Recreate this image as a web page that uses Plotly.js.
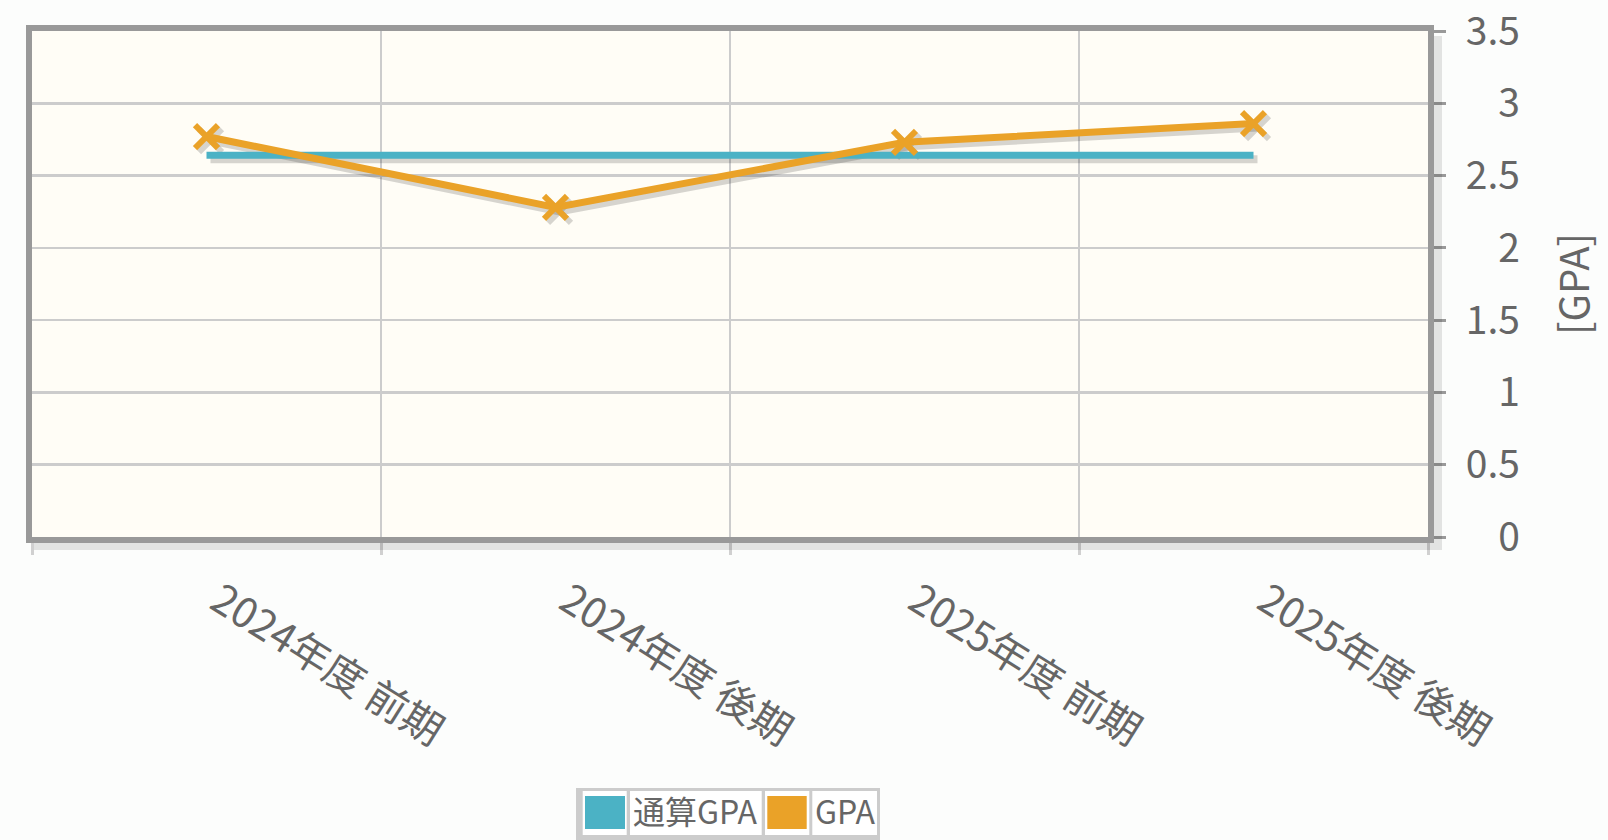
<!DOCTYPE html>
<html><head><meta charset="utf-8">
<script src="https://cdn.plot.ly/plotly-3.0.1.min.js"></script>
<style>html,body{margin:0;padding:0;background:#fcfdfc;} #chart{width:1608px;height:840px;}</style>
</head><body><div id="chart"></div>
<script>
// ---- data ----
const categories = ["2024年度 前期", "2024年度 後期", "2025年度 前期", "2025年度 後期"];
const seriesNames = ["通算GPA", "GPA"];
const cumulativeGpa = [2.64, 2.64, 2.64, 2.64];
const termGpa = [2.77, 2.28, 2.73, 2.86];
const yTickValues = [0, 0.5, 1, 1.5, 2, 2.5, 3, 3.5];
const yTickLabels = ["0", "0.5", "1", "1.5", "2", "2.5", "3", "3.5"];
const yTitle = "[GPA]";
const seriesColors = ["#4bb2c5", "#eaa228"];

// ---- layout geometry ----
const W = 1608, H = 840;
const L = 32, R = 1428, T = 31, B = 537;
const px = x => (x - L) / (R - L);
const py = y => (B - y) / (B - T);
const fontFam = "'Noto Sans CJK JP', 'Noto Sans', sans-serif";
const textColor = "#666666";
const yMax = 3.5;
const unitY = yMax / (B - T);
const unitX = 1 / ((R - L) / categories.length);
const sh = 4; // shadow offset px

// right-align y tick labels with figure/punctuation spaces
const yTickText = yTickLabels.map(s => s.indexOf('.') >= 0 ? s : '\u2007\u2008' + s);

const shadowColor = "rgba(0,0,0,0.16)";
const traces = [
  // anchor trace for the main subplot (invisible)
  { x: categories, y: cumulativeGpa, xaxis: 'x', yaxis: 'y', mode: 'lines', type: 'scatter',
    line: { color: 'rgba(0,0,0,0)', width: 0 }, hoverinfo: 'skip', showlegend: false },
  { x: categories, y: cumulativeGpa, xaxis: 'x2', yaxis: 'y2', mode: 'lines', type: 'scatter',
    line: { color: shadowColor, width: 8 }, hoverinfo: 'skip', showlegend: false },
  { x: categories, y: termGpa, xaxis: 'x2', yaxis: 'y2', mode: 'lines+markers', type: 'scatter',
    line: { color: shadowColor, width: 8 },
    marker: { symbol: 'x-thin-open', size: 23, color: shadowColor, line: { color: shadowColor, width: 6 } },
    hoverinfo: 'skip', showlegend: false },
  { x: categories, y: cumulativeGpa, xaxis: 'x3', yaxis: 'y3', mode: 'lines', type: 'scatter', name: seriesNames[0],
    line: { color: seriesColors[0], width: 7 }, showlegend: false },
  { x: categories, y: termGpa, xaxis: 'x3', yaxis: 'y3', mode: 'lines+markers', type: 'scatter', name: seriesNames[1],
    line: { color: seriesColors[1], width: 7 },
    marker: { symbol: 'x-thin-open', size: 23, color: seriesColors[1], line: { color: seriesColors[1], width: 6 } },
    showlegend: false }
];

const xRange = [-0.5, categories.length - 0.5];
const yRange = [0, yMax];

const shapes = [
  // frame shadow
  { type: 'rect', xref: 'paper', yref: 'paper', x0: px(1434), x1: px(1442), y0: py(36), y1: py(550),
    fillcolor: 'rgba(0,0,0,0.10)', line: { width: 0 } },
  { type: 'rect', xref: 'paper', yref: 'paper', x0: px(34), x1: px(1434), y0: py(543), y1: py(550),
    fillcolor: 'rgba(0,0,0,0.10)', line: { width: 0 } },
  // legend box
  { type: 'rect', xref: 'paper', yref: 'paper', x0: px(576), x1: px(880), y0: py(788), y1: py(840),
    fillcolor: '#cccccc', line: { width: 0 } },
  { type: 'rect', xref: 'paper', yref: 'paper', x0: px(582.7), x1: px(626.7), y0: py(791), y1: py(835),
    fillcolor: '#ffffff', line: { width: 0 } },
  { type: 'rect', xref: 'paper', yref: 'paper', x0: px(630), x1: px(761.7), y0: py(791), y1: py(835),
    fillcolor: '#ffffff', line: { width: 0 } },
  { type: 'rect', xref: 'paper', yref: 'paper', x0: px(765), x1: px(809.3), y0: py(791), y1: py(835),
    fillcolor: '#ffffff', line: { width: 0 } },
  { type: 'rect', xref: 'paper', yref: 'paper', x0: px(812.3), x1: px(877), y0: py(791), y1: py(835),
    fillcolor: '#ffffff', line: { width: 0 } },
  { type: 'rect', xref: 'paper', yref: 'paper', x0: px(585), x1: px(625), y0: py(796), y1: py(829),
    fillcolor: seriesColors[0], line: { width: 0 } },
  { type: 'rect', xref: 'paper', yref: 'paper', x0: px(767.3), x1: px(806.7), y0: py(796), y1: py(829),
    fillcolor: seriesColors[1], line: { width: 0 } }
];

const annotations = [
  { xref: 'paper', yref: 'paper', x: px(631), y: py(810), xanchor: 'left', yanchor: 'middle', showarrow: false,
    text: seriesNames[0], font: { family: fontFam, size: 32, color: textColor } },
  { xref: 'paper', yref: 'paper', x: px(813), y: py(810), xanchor: 'left', yanchor: 'middle', showarrow: false,
    text: seriesNames[1], font: { family: fontFam, size: 32, color: textColor } }
];

const layout = {
  width: W, height: H,
  margin: { l: L, r: W - R, t: T, b: H - B, pad: 0 },
  paper_bgcolor: '#fcfdfc',
  plot_bgcolor: '#fffdf6',
  showlegend: false,
  font: { family: fontFam, color: textColor },
  xaxis: {
    type: 'category', range: xRange, tickson: 'boundaries', automargin: false,
    showgrid: true, gridcolor: '#cccccc', gridwidth: 2.5,
    showline: true, linecolor: '#999999', linewidth: 6, mirror: true,
    ticks: 'outside', ticklen: 12, tickwidth: 3, tickcolor: '#d0d0d0',
    tickangle: 32, tickfont: { family: fontFam, size: 41, color: textColor },
    ticklabelshift: 12, ticklabelstandoff: 18,
    zeroline: false, fixedrange: true
  },
  yaxis: {
    side: 'right', range: yRange, automargin: false,
    tickmode: 'array', tickvals: yTickValues, ticktext: yTickText,
    showgrid: true, gridcolor: '#cccccc', gridwidth: 2.5,
    showline: true, linecolor: '#999999', linewidth: 6, mirror: true,
    ticks: 'outside', ticklen: 12, tickwidth: 3, tickcolor: '#999999',
    tickfont: { family: fontFam, size: 39, color: textColor },
    ticklabelstandoff: 12, ticklabeloverflow: 'allow',
    title: { text: yTitle, font: { family: fontFam, size: 40, color: textColor }, standoff: 44 },
    zeroline: false, fixedrange: true
  },
  xaxis2: { type: 'category', overlaying: 'x', anchor: 'y2', visible: false,
    range: [xRange[0] - sh * unitX, xRange[1] - sh * unitX], fixedrange: true },
  yaxis2: { overlaying: 'y', anchor: 'x2', visible: false,
    range: [yRange[0] + sh * unitY, yRange[1] + sh * unitY], fixedrange: true },
  xaxis3: { type: 'category', overlaying: 'x', anchor: 'y3', visible: false, range: xRange, fixedrange: true },
  yaxis3: { overlaying: 'y', anchor: 'x3', visible: false, range: yRange, fixedrange: true },
  shapes: shapes,
  annotations: annotations
};

Plotly.newPlot('chart', traces, layout, { staticPlot: true, displayModeBar: false });
</script>
</body></html>
